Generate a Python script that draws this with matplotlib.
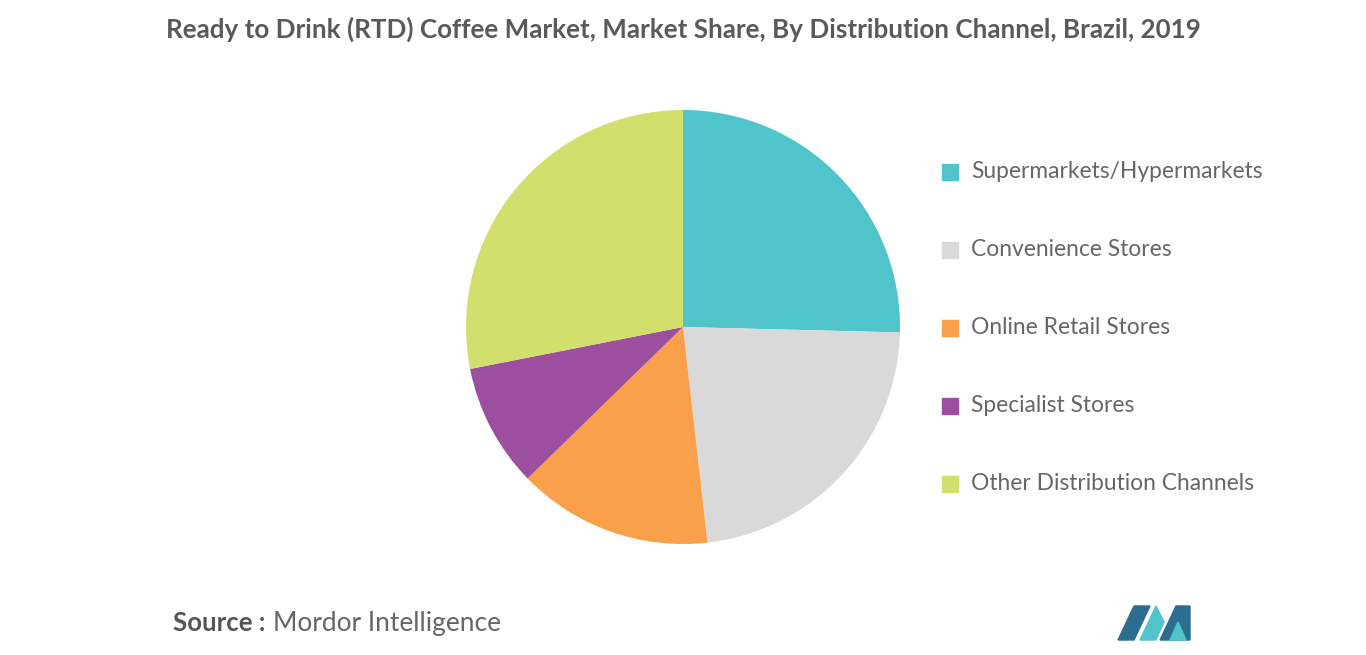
import matplotlib
matplotlib.use("Agg")
import matplotlib.pyplot as plt
from matplotlib.patches import Rectangle, Polygon

# data (approximate shares, %)
channels = ["Supermarkets/Hypermarkets", "Convenience Stores", "Online Retail Stores",
            "Specialist Stores", "Other Distribution Channels"]
shares = [25.4, 22.8, 14.5, 9.2, 28.1]
colors = ["#4FC4CB", "#D9D9D9", "#FBA04A", "#9B4F9E", "#D1DF6C"]

W, H = 1366, 655
fig = plt.figure(figsize=(W / 100, H / 100), dpi=100)
fig.patch.set_facecolor("white")

r = 217
ax = fig.add_axes([(683 - r) / W, 1 - (327 + r) / H, 2 * r / W, 2 * r / H])
ax.pie(shares, colors=colors, startangle=90, counterclock=False, radius=1,
       wedgeprops=dict(linewidth=0))
ax.set_xlim(-1, 1)
ax.set_ylim(-1, 1)
ax.set_aspect("equal")

fig.text(683 / W, 1 - 29 / H,
         "Ready to Drink (RTD) Coffee Market, Market Share, By Distribution Channel, Brazil, 2019",
         ha="center", va="center", fontsize=18.7, fontweight="bold", color="#5a5a5a",
         family="Lato")

# legend
for i, (name, c) in enumerate(zip(channels, colors)):
    y = 172 + 78 * i
    fig.patches.append(Rectangle((942 / W, 1 - (y + 8) / H), 16 / W, 16 / H,
                                 transform=fig.transFigure, color=c))
    fig.text(971 / W, 1 - y / H, name, ha="left", va="center", fontsize=16.4,
             color="#666666", family="Lato")

fig.text(173 / W, 1 - 623 / H, "Source :", ha="left", va="center", fontsize=18.5,
         fontweight="bold", color="#555555", family="Lato")
fig.text(273 / W, 1 - 623 / H, "Mordor Intelligence", ha="left", va="center",
         fontsize=18.9, color="#666666", family="Lato")

# simple logo
def poly(pts, c):
    fig.patches.append(Polygon([(x / W, 1 - y / H) for x, y in pts], closed=True,
                               transform=fig.transFigure, color=c))
poly([(1118, 640), (1134, 606), (1150, 606), (1134, 640)], "#2C6E8F")
poly([(1140, 640), (1156, 606), (1164, 622), (1156, 640)], "#4FC4CB")
poly([(1160, 640), (1176, 606), (1190, 606), (1190, 640)], "#2C6E8F")
poly([(1170, 640), (1178, 622), (1186, 640)], "#4FC4CB")

fig.savefig("out.png", dpi=100)
